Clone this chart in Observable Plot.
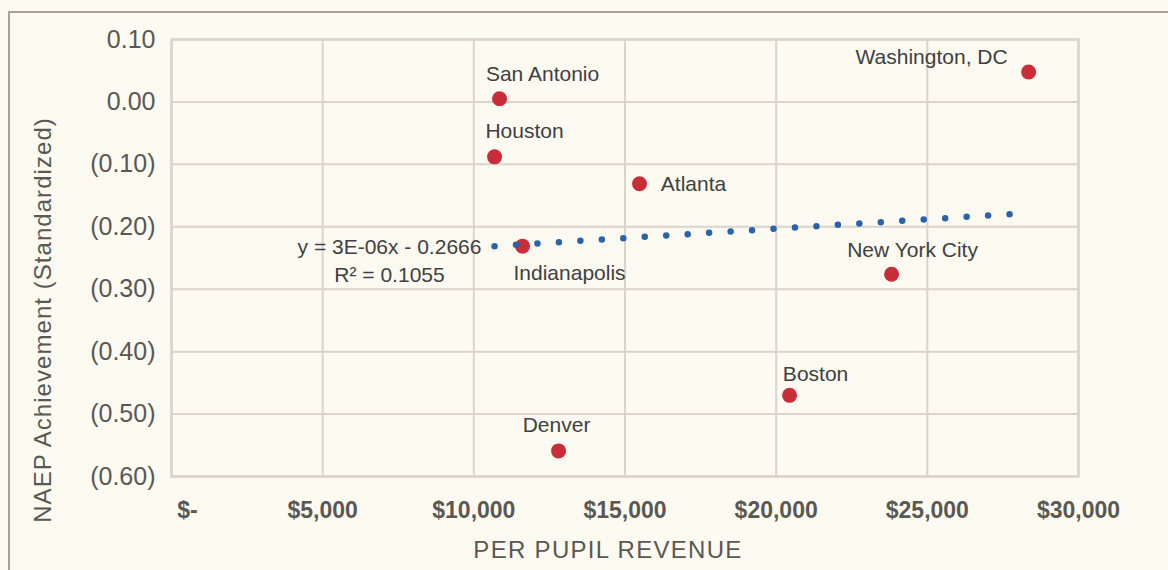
<!DOCTYPE html>
<html>
<head>
<meta charset="utf-8">
<script src="https://cdn.jsdelivr.net/npm/d3@7"></script>
<script src="https://cdn.jsdelivr.net/npm/@observablehq/plot@0.6"></script>
<style>
  html, body { margin: 0; padding: 0; background: #fdfaf2; }
  #wrap { position: relative; width: 1168px; height: 570px; overflow: hidden; background: #fdfaf2; }
  #frame { position: absolute; left: 8px; top: 11px; width: 1200px; height: 600px;
           border-top: 2px solid #a7a39c; border-left: 2px solid #a7a39c; pointer-events: none; }
  #chart { position: absolute; left: 0; top: 0; }
</style>
</head>
<body>
<div id="wrap"><div id="frame"></div><div id="chart"></div></div>
<script>
// ---- data ----
const cities = ["San Antonio", "Houston", "Atlanta", "Indianapolis", "Denver", "Boston", "New York City", "Washington, DC"];
const revenue = [10850, 10685, 15480, 11611, 12802, 20443, 23817, 28350];
const naep = [0.005, -0.088, -0.131, -0.231, -0.559, -0.470, -0.276, 0.048];
const xTicks = [0, 5000, 10000, 15000, 20000, 25000, 30000];
const yTicks = [0.10, 0.00, -0.10, -0.20, -0.30, -0.40, -0.50, -0.60];
const xTitle = "PER PUPIL REVENUE";
const yTitle = "NAEP Achievement (Standardized)";
const trendText = "y = 3E-06x - 0.2666\nR² = 0.1055";

const data = cities.map((c, i) => ({city: c, x: revenue[i], y: naep[i]}));

// label offsets (pixels relative to each point)
const labelOffset = {
  "San Antonio": [43, -25],
  "Houston": [30, -26],
  "Atlanta": [54, 1],
  "Indianapolis": [47, 27],
  "Denver": [-2, -26],
  "Boston": [26, -21],
  "New York City": [21, -24],
  "Washington, DC": [-97, -15]
};

const font = "'Liberation Sans', Arial, sans-serif";
const grid = "#d9d5cd";
const red = "#c92d37";
const blue = "#2a63ab";

const fmtY = v => {
  const r = Math.round(v * 100) / 100;
  return r < 0 ? `(${Math.abs(r).toFixed(2)})` : Math.abs(r).toFixed(2);
};
const fmtX = v => v === 0 ? "\u00a0\u00a0\u00a0\u00a0\u00a0$-" : "$" + d3.format(",")(v);

const labelMarks = cities.map(c => Plot.text(data.filter(d => d.city === c), {
  x: "x", y: "y", text: "city",
  dx: labelOffset[c][0], dy: labelOffset[c][1],
  fill: "#404040", fontSize: 21
}));

const chart = Plot.plot({
  width: 1168,
  height: 570,
  marginLeft: 171,
  marginRight: 90,
  marginTop: 39,
  marginBottom: 94,
  style: {background: "transparent", fontFamily: font, overflow: "visible"},
  x: {domain: [0, 30000]},
  y: {domain: [-0.6, 0.1]},
  marks: [
    Plot.gridX(xTicks, {stroke: grid, strokeOpacity: 1, strokeWidth: 2}),
    Plot.gridY(yTicks, {stroke: grid, strokeOpacity: 1, strokeWidth: 2}),
    Plot.frame({stroke: grid, strokeWidth: 2.5}),
    Plot.axisY(yTicks, {tickSize: 0, tickPadding: 16, tickFormat: fmtY, fontSize: 25, fill: "#5a5853", label: null}),
    Plot.axisX(xTicks, {tickSize: 0, tickPadding: 25, tickFormat: fmtX, fontSize: 23, fontWeight: "bold", fill: "#5a5853", label: null}),
    Plot.dot(data, {x: "x", y: "y", r: 7.5, fill: red}),
    Plot.linearRegressionY(data, {x: "x", y: "y", ci: 0, stroke: blue, strokeWidth: 6.5,
      strokeDasharray: "0 21.5", strokeLinecap: "round"}),
    ...labelMarks,
    Plot.text([trendText], {frameAnchor: "top-left", dx: 218, dy: 220, textAnchor: "middle",
      lineAnchor: "middle", lineHeight: 1.33, fontSize: 21, fill: "#404040"}),
    Plot.text([xTitle], {frameAnchor: "bottom", dx: -17, dy: 81, textAnchor: "middle", fontSize: 24,
      fill: "#5a5853"}),
    Plot.text([yTitle], {frameAnchor: "left", dx: -128, dy: 62, rotate: -90, textAnchor: "middle",
      lineAnchor: "middle", fontSize: 24, fill: "#5a5853"})
  ]
});
// letter spacing for the axis titles (not a Plot text option)
d3.select(chart).selectAll("text")
  .filter(function() { return this.textContent === xTitle; })
  .attr("letter-spacing", "1.3px");
d3.select(chart).selectAll("text")
  .filter(function() { return this.textContent === yTitle; })
  .attr("letter-spacing", "1.05px");
document.getElementById("chart").appendChild(chart);
</script>
</body>
</html>
